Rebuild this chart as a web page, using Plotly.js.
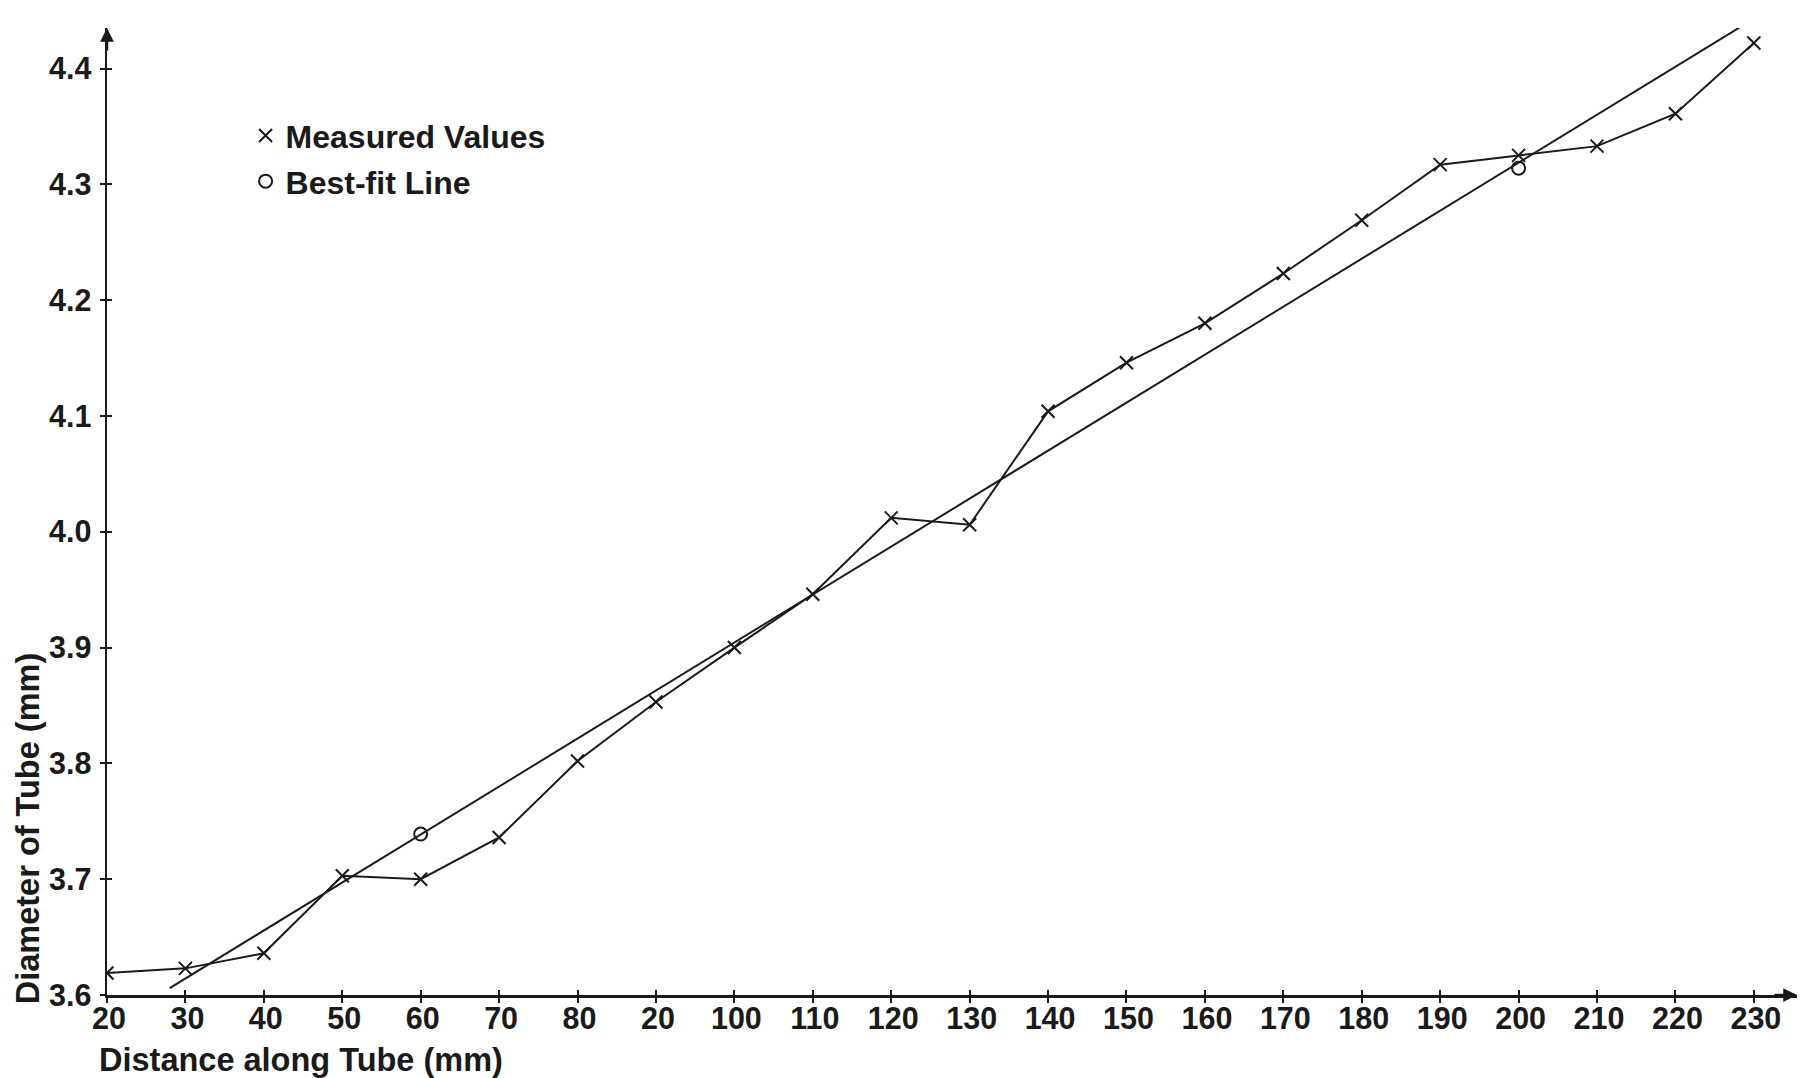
<!DOCTYPE html>
<html>
<head>
<meta charset="utf-8">
<script src="https://cdn.plot.ly/plotly-3.0.1.min.js"></script>
<style>
  html, body { margin: 0; padding: 0; background: #ffffff; }
  #chart { width: 1811px; height: 1078px; }
</style>
</head>
<body>
<div id="chart"></div>
<script>
// ---- Data ----
const distances = [20, 30, 40, 50, 60, 70, 80, 90, 100, 110, 120, 130, 140, 150, 160, 170, 180, 190, 200, 210, 220, 230];
const measuredDiameters = [3.619, 3.623, 3.636, 3.703, 3.700, 3.736, 3.802, 3.853, 3.900, 3.946, 4.012, 4.006, 4.104, 4.146, 4.180, 4.223, 4.269, 4.317, 4.325, 4.333, 4.361, 4.422];

const fitLineX = [28, 230];
const fitLineY = [3.606, 4.443];
const fitPointX = [60, 200];
const fitPointY = [3.739, 4.314];

const xTickVals = [20, 30, 40, 50, 60, 70, 80, 90, 100, 110, 120, 130, 140, 150, 160, 170, 180, 190, 200, 210, 220, 230];
const xTickText = ["20", "30", "40", "50", "60", "70", "80", "20", "100", "110", "120", "130", "140", "150", "160", "170", "180", "190", "200", "210", "220", "230"];
const yTickVals = [3.6, 3.7, 3.8, 3.9, 4.0, 4.1, 4.2, 4.3, 4.4];
const yTickText = ["3.6", "3.7", "3.8", "3.9", "4.0", "4.1", "4.2", "4.3", "4.4"];

const xTitle = "Distance along Tube (mm)";
const yTitle = "Diameter of Tube (mm)";
const seriesNames = ["Measured Values", "Best-fit Line"];

// ---- Styling ----
const ink = "#1a1a1a";
const fontFamily = "Liberation Sans, Arial, Helvetica, sans-serif";
const xRange = [20, 235.5];
const yRange = [3.6, 4.435];

const traces = [
  { // measured polyline
    x: distances, y: measuredDiameters, type: "scatter", mode: "lines",
    line: { color: ink, width: 2 }, showlegend: false, hoverinfo: "skip"
  },
  { // measured markers (legend entry)
    x: distances, y: measuredDiameters, type: "scatter", mode: "markers",
    name: seriesNames[0], legendgroup: "m",
    marker: { symbol: "x-thin-open", size: 13, color: ink, line: { color: ink, width: 2 } }
  },
  { // best-fit line
    x: fitLineX, y: fitLineY, type: "scatter", mode: "lines",
    xaxis: "x2", yaxis: "y2",
    line: { color: ink, width: 2 }, showlegend: false, hoverinfo: "skip"
  },
  { // best-fit markers (legend entry)
    x: fitPointX, y: fitPointY, type: "scatter", mode: "markers",
    name: seriesNames[1], legendgroup: "b",
    marker: { symbol: "circle-open", size: 13, color: ink, line: { color: ink, width: 2 } }
  }
];

const tickFont = { family: fontFamily, size: 30.5, color: ink, weight: "bold" };

const layout = {
  width: 1811, height: 1078,
  margin: { l: 107, r: 14, t: 28, b: 83.4, pad: 0 },
  paper_bgcolor: "#ffffff", plot_bgcolor: "#ffffff",
  showlegend: true,
  legend: {
    x: 0.082, y: 0.917, xanchor: "left", yanchor: "top",
    bgcolor: "rgba(0,0,0,0)", borderwidth: 0,
    font: { family: fontFamily, size: 32, color: ink, weight: "bold" },
    traceorder: "grouped", tracegroupgap: 1, itemwidth: 30
  },
  xaxis: {
    range: xRange, tickmode: "array", tickvals: xTickVals, ticktext: xTickText,
    showline: true, linewidth: 2.5, linecolor: ink,
    ticks: "outside", ticklen: 5, tickwidth: 2, tickcolor: ink,
    showgrid: false, zeroline: false, tickfont: tickFont, ticklabelstandoff: -10,
    ticklabelshift: 2, fixedrange: true
  },
  yaxis: {
    range: yRange, tickmode: "array", tickvals: yTickVals, ticktext: yTickText,
    showline: true, linewidth: 2.5, linecolor: ink,
    ticks: "outside", ticklen: 5, tickwidth: 2, tickcolor: ink,
    showgrid: false, zeroline: false, tickfont: tickFont, ticklabelstandoff: 2,
    fixedrange: true
  },
  xaxis2: {
    overlaying: "x", anchor: "y2", range: xRange, tickmode: "array", tickvals: xTickVals,
    showticklabels: false, showline: false, ticks: "inside", ticklen: 5, tickwidth: 2,
    tickcolor: ink, showgrid: false, zeroline: false, fixedrange: true
  },
  yaxis2: {
    overlaying: "y", anchor: "x2", range: yRange, tickmode: "array", tickvals: yTickVals,
    showticklabels: false, showline: false, ticks: "inside", ticklen: 5, tickwidth: 2,
    tickcolor: ink, showgrid: false, zeroline: false, fixedrange: true
  },
  annotations: [
    { // x axis arrowhead
      x: xRange[1], y: yRange[0], xref: "x", yref: "y", ax: -24, ay: 0,
      showarrow: true, arrowhead: 2, arrowsize: 1.1, arrowwidth: 2.5, arrowcolor: ink, text: ""
    },
    { // y axis arrowhead
      x: xRange[0], y: yRange[1], xref: "x", yref: "y", ax: 0, ay: 24,
      showarrow: true, arrowhead: 2, arrowsize: 1.1, arrowwidth: 2.5, arrowcolor: ink, text: ""
    },
    { // x title
      text: xTitle, xref: "paper", yref: "paper", x: -0.0059, y: -0.0677,
      xanchor: "left", yanchor: "middle", showarrow: false,
      font: { family: fontFamily, size: 32.5, color: ink, weight: "bold" }
    },
    { // y title
      text: yTitle, xref: "paper", yref: "paper", x: -0.047, y: 0.172,
      xanchor: "center", yanchor: "middle", textangle: -90, showarrow: false,
      font: { family: fontFamily, size: 32.5, color: ink, weight: "bold" }
    }
  ]
};

Plotly.newPlot("chart", traces, layout, { staticPlot: true, displayModeBar: false });
</script>
</body>
</html>
